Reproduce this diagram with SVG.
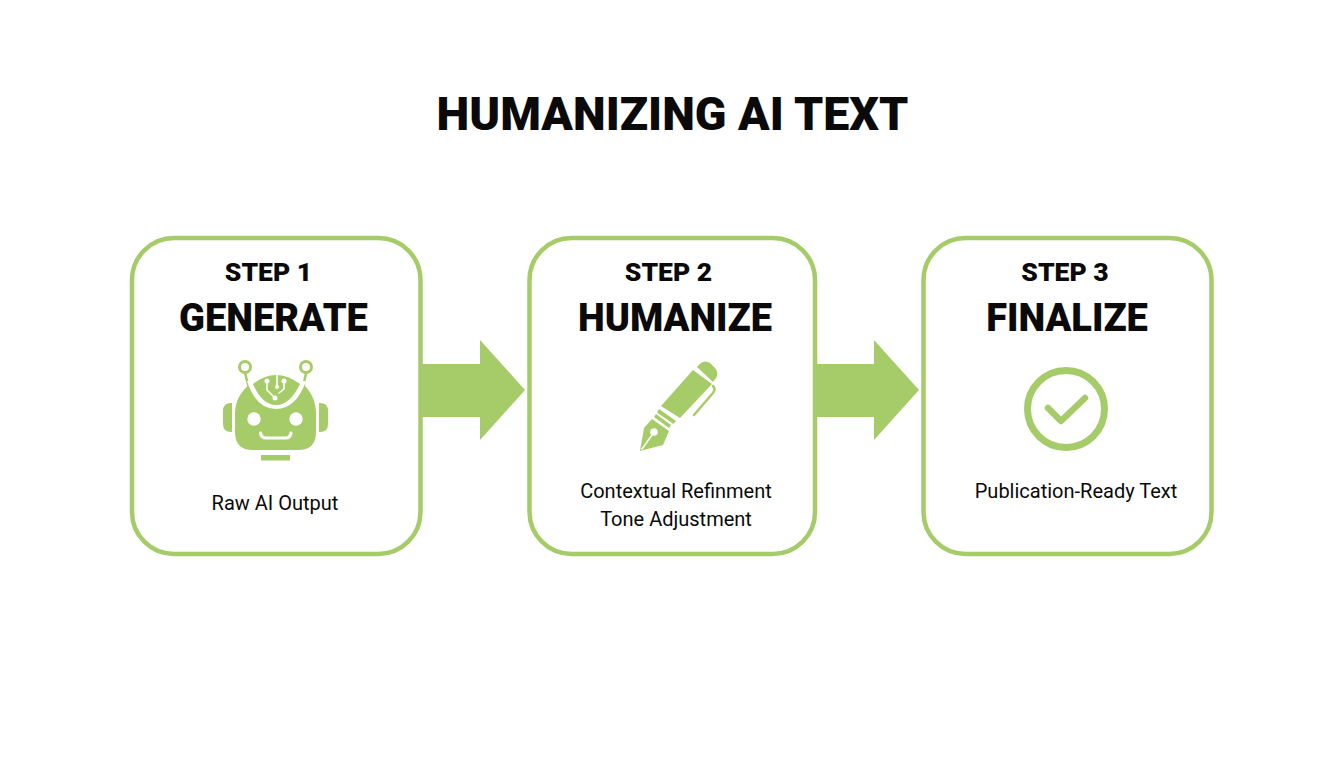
<svg xmlns="http://www.w3.org/2000/svg" width="1344" height="768" viewBox="0 0 1344 768">
<style>
text{font-family:Roboto,"Liberation Sans",sans-serif;text-anchor:middle;fill:#0a0a0a}
.title{font-size:46.500px;font-weight:900}
.step{font-size:26.500px;font-weight:900}
.name{font-size:38px;font-weight:900}
.desc{font-size:20px;font-weight:400}
.box{fill:#fff;stroke:#a5cc69;stroke-width:4.500}
.g{fill:#a5cc69}
.w{fill:#fff}
.gl{fill:none;stroke:#a5cc69;stroke-linecap:round;stroke-linejoin:round}
.wl{fill:none;stroke:#fff;stroke-linecap:round;stroke-linejoin:round}
</style>
<rect width="1344" height="768" fill="#fff"/>
<text id="title" class="title" x="672.500" y="129.500">HUMANIZING AI TEXT</text>
<g id="step1">
<rect class="box" x="132" y="238" width="288.500" height="316" rx="42"/>
<text class="step" x="268.500" y="281">STEP 1</text>
<text class="name" x="273.500" y="330.500">GENERATE</text>
<g id="robot">
<path class="g" d="M223 411Q223 403 231 403H232V432H231Q223 432 223 424Z"/>
<path class="g" d="M328 411Q328 403 320 403H319V432H320Q328 432 328 424Z"/>
<circle cx="245" cy="367" r="5.500" fill="none" stroke="#a5cc69" stroke-width="3"/>
<circle cx="306" cy="367" r="5.500" fill="none" stroke="#a5cc69" stroke-width="3"/>
<path class="gl" stroke-width="2.500" d="M245 373L249 388M306 373L303 388"/>
<path class="g" d="M235 414Q235 396 250 384L303 384Q316 396 316 414V432Q316 450 298 450H253Q235 450 235 432Z"/>
<path class="w" d="M247 381L306 381Q296 409 276 409Q256 409 247 381Z"/>
<path class="g" d="M253 384Q276 366 300 384Q290 405 276 405Q262 405 253 384Z"/>
<path class="wl" stroke-width="1.600" d="M277 374V386M267 382V390L275 398M284 382V389L279 393"/>
<circle class="w" cx="267" cy="381" r="2.500"/><circle class="w" cx="284" cy="381" r="2.500"/><circle class="w" cx="277" cy="387" r="2"/><circle class="w" cx="275" cy="398" r="2.500"/>
<circle class="w" cx="254" cy="419" r="6.700"/>
<circle class="w" cx="296" cy="419" r="6.700"/>
<path class="wl" stroke-width="3.200" d="M260.500 433Q261.500 438 266 438H286Q290 438 291 433"/>
<rect class="g" x="261" y="455" width="29" height="5.500"/>
</g>
<text class="desc" x="275" y="510">Raw AI Output</text>
</g>
<g id="step2">
<rect class="box" x="529.500" y="238" width="285.500" height="316" rx="42"/>
<text class="step" x="668.500" y="281">STEP 2</text>
<text class="name" x="675" y="330.500">HUMANIZE</text>
<g id="pen">
<path class="g" d="M697 367L701 363Q705 360 710 363L715 368Q719 373 716 378L713 382Z"/>
<path class="g" d="M693 370L712 384L680 418L661 406Z"/>
<path class="g" d="M659 409L676 421L673.500 424L657 412.500Z"/>
<path class="g" d="M656 414L671 425L669 428L654 417Z"/>
<path class="g" d="M652 419L669 431L663 445L640 451L644 428Z"/>
<circle class="w" cx="654" cy="432" r="3.800"/>
<path class="wl" stroke-width="1.500" d="M652 435L642 449"/>
<path class="gl" stroke-width="2.500" d="M713 386Q716 389 713 393L694 415"/>
</g>
<text class="desc" x="676" y="498">Contextual Refinment</text>
<text class="desc" x="676" y="526">Tone Adjustment</text>
</g>
<g id="step3">
<rect class="box" x="923.500" y="238" width="288" height="316" rx="42"/>
<text class="step" x="1065" y="281">STEP 3</text>
<text class="name" x="1067" y="330.500">FINALIZE</text>
<g id="check">
<circle cx="1066" cy="409" r="38.500" fill="none" stroke="#a5cc69" stroke-width="7"/>
<path class="gl" stroke-width="6.500" d="M1048 408L1061 421L1085 398"/>
</g>
<text class="desc" x="1076" y="498">Publication-Ready Text</text>
</g>
<g id="connectors">
<path class="g" d="M420 364H480V340L525 390L480 440V417H420Z"/>
<path class="g" d="M814 364H874V340L919 390L874 440V417H814Z"/>
</g>
</svg>
